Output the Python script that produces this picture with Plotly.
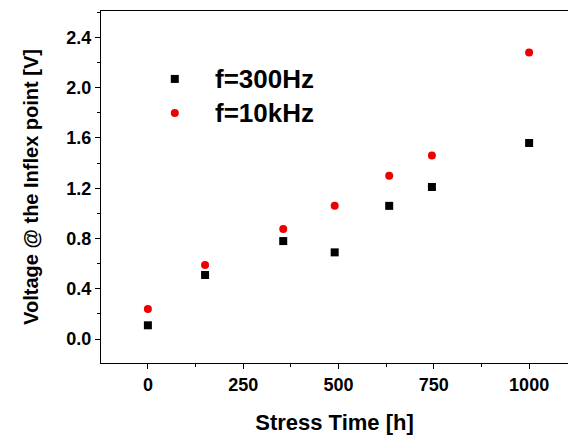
import plotly.graph_objects as go

# Data
stress_time = [0, 150, 355, 490, 633, 745, 1000]
v_300hz = [0.11, 0.51, 0.78, 0.69, 1.06, 1.21, 1.56]
v_10khz = [0.24, 0.59, 0.875, 1.06, 1.30, 1.46, 2.28]

series_names = ["f=300Hz", "f=10kHz"]
x_ticks = [0, 250, 500, 750, 1000]
y_ticks = [0.0, 0.4, 0.8, 1.2, 1.6, 2.0, 2.4]

FONT = "Liberation Sans, Arial, sans-serif"

fig = go.Figure()
fig.add_trace(go.Scatter(x=stress_time, y=v_300hz, mode="markers", name=series_names[0],
                         marker=dict(symbol="square", size=8, color="black"),
                         showlegend=False))
fig.add_trace(go.Scatter(x=stress_time, y=v_10khz, mode="markers", name=series_names[1],
                         marker=dict(symbol="circle", size=8, color="#ee0000"),
                         showlegend=False))

# Manual legend on an overlay axis (0..1 coordinates of the plot area)
leg_y = [0.807, 0.71]
fig.add_trace(go.Scatter(x=[0.158], y=[leg_y[0]], mode="markers", xaxis="x2", yaxis="y2",
                         marker=dict(symbol="square", size=8, color="black"), showlegend=False,
                         hoverinfo="skip"))
fig.add_trace(go.Scatter(x=[0.158], y=[leg_y[1]], mode="markers", xaxis="x2", yaxis="y2",
                         marker=dict(symbol="circle", size=8, color="#ee0000"), showlegend=False,
                         hoverinfo="skip"))
for name, yy in zip(series_names, leg_y):
    fig.add_annotation(x=0.239, y=yy, xref="x2", yref="y2", text=name, showarrow=False,
                       xanchor="left", yanchor="middle",
                       font=dict(family=FONT, size=26, color="black", weight="bold"))

fig.update_layout(
    width=568, height=435,
    margin=dict(l=101, r=0, t=11, b=72),
    paper_bgcolor="white", plot_bgcolor="white",
    font=dict(family=FONT, color="black"),
    xaxis=dict(
        range=[-123, 1102], tickvals=x_ticks, ticks="outside", ticklen=5, tickwidth=1,
        tickcolor="black", showline=True, linecolor="black", linewidth=1, mirror=True,
        showgrid=False, zeroline=False,
        minor=dict(dtick=125, tick0=0, ticks="outside", ticklen=3, tickcolor="black", showgrid=False),
        tickfont=dict(family=FONT, size=18, weight="bold"),
        title=dict(text="Stress Time [h]", font=dict(family=FONT, size=22, weight="bold"), standoff=21),
    ),
    yaxis=dict(
        range=[-0.19, 2.61], tickvals=y_ticks, tickformat=".1f", ticks="outside", ticklen=5,
        tickwidth=1, tickcolor="black", showline=True, linecolor="black", linewidth=1,
        showgrid=False, zeroline=False,
        minor=dict(dtick=0.2, tick0=0, ticks="outside", ticklen=3, tickcolor="black", showgrid=False),
        tickfont=dict(family=FONT, size=18, weight="bold"),
        title=dict(text="Voltage @ the Inflex point [V]", font=dict(family=FONT, size=20, weight="bold"), standoff=22),
    ),
    xaxis2=dict(range=[0, 1], overlaying="x", visible=False, fixedrange=True),
    yaxis2=dict(range=[0, 1], overlaying="y", visible=False, fixedrange=True),
)

fig.write_html("out.html")
